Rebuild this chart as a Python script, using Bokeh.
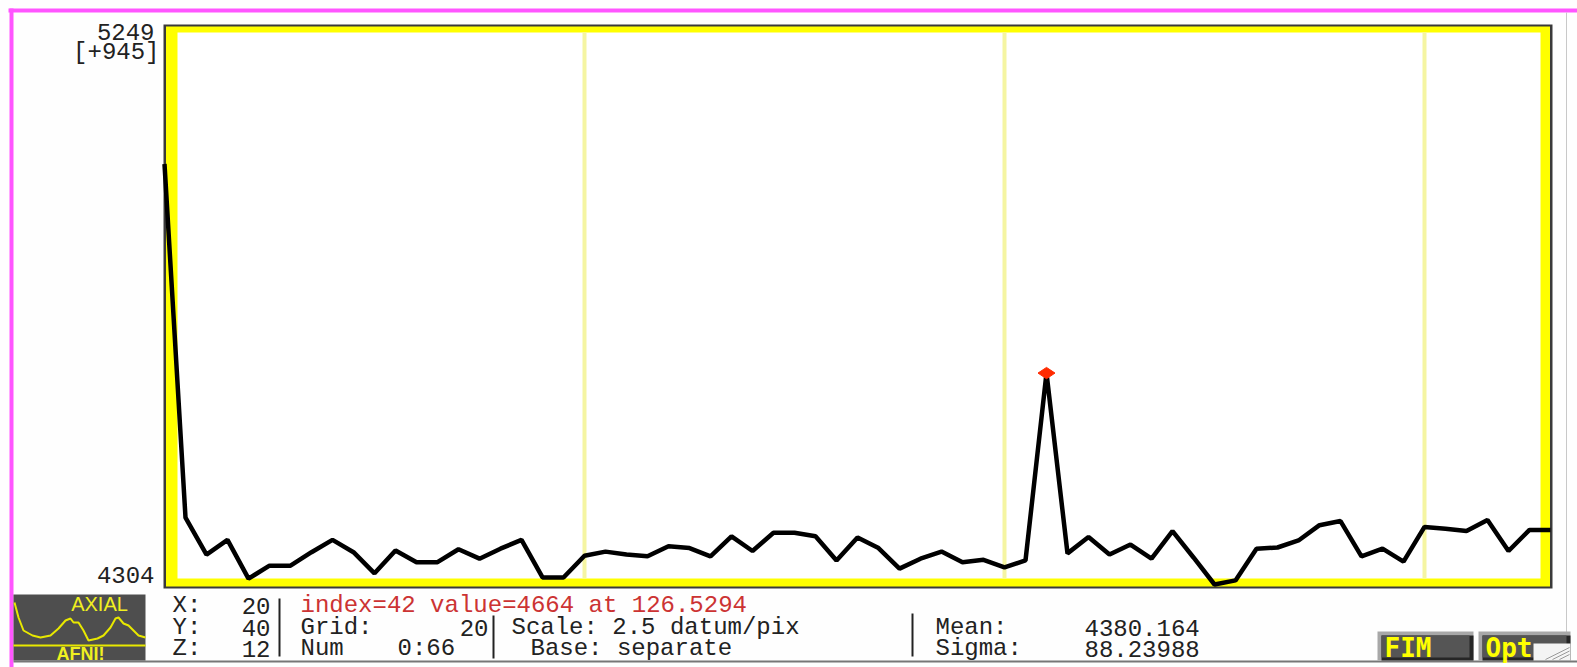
import numpy as np
from bokeh.plotting import figure
from bokeh.models import Range1d
from bokeh.embed import file_html
from bokeh.resources import INLINE
from bokeh.core.properties import value

# ---------------- data ----------------
time_index = list(range(67))
signal = [5020, 4418, 4355, 4380, 4314, 4336, 4336, 4359, 4380, 4359,
          4323, 4362, 4342, 4342, 4364, 4348, 4365, 4380, 4316, 4316,
          4353, 4360, 4355, 4352, 4369, 4366, 4352, 4386, 4361, 4392,
          4392, 4386, 4345, 4384, 4366, 4331, 4348, 4360, 4342, 4346,
          4333, 4345, 4664, 4357, 4385, 4355, 4372, 4348, 4395, 4350,
          4304, 4311, 4365, 4367, 4379, 4405, 4412, 4352, 4365, 4343,
          4402, 4399, 4395, 4414, 4361, 4397, 4397]
grid_lines_at = [20, 40, 60]
selected_index = 42
y_bottom_value = 4304
y_top_value = 5249
y_top_label = "5249"
y_range_label = "[+945]"
y_bottom_label = "4304"

coord_names = ["X:", "Y:", "Z:"]
coord_values = ["20", "40", "12"]
status_text = "index=42 value=4664 at 126.5294"
grid_label, grid_value = "Grid:", "20"
num_label, num_value = "Num", "0:66"
scale_text = "Scale: 2.5 datum/pix"
base_text = "Base: separate"
stat_names = ["Mean:", "Sigma:"]
stat_values = ["4380.164", "88.23988"]
logo_top, logo_bottom = "AXIAL", "AFNI!"
button_labels = ["FIM", "Opt"]

# decorative logo waveform (pixel positions inside the logo box)
logo_wave_x = [14, 18, 23, 32, 40, 50, 58, 65, 70, 73, 78, 83, 88, 97, 103,
               110, 115, 118, 123, 128, 133, 138, 145]
logo_wave_y = [602, 617, 630, 635, 637, 635, 628, 620, 618, 622, 622, 630,
               640, 638, 635, 627, 618, 617, 623, 625, 630, 635, 637]

# ---------------- geometry ----------------
W, H = 1577, 667
PAGE = 0                      # canvas offset on the page
X_PIX_0, DX = 164.0, 21.0     # page x of index 0, pixels per index
Y_PIX_BOT, Y_PIX_TOP = 584.0, 29.0
K = (y_top_value - y_bottom_value) / (Y_PIX_BOT - Y_PIX_TOP)


def dx(px):
    return (px - X_PIX_0) / DX


def dy(py):
    return y_bottom_value + (Y_PIX_BOT - py) * K


p = figure(width=W, height=H, output_backend="svg", toolbar_location=None,
           x_range=Range1d(dx(PAGE), dx(PAGE + W)),
           y_range=Range1d(dy(PAGE + H), dy(PAGE)),
           x_axis_location=None, y_axis_location=None, min_border=0)
p.outline_line_color = None
p.background_fill_color = "#fefefe"
p.border_fill_color = "#fefefe"
p.grid.visible = False

# window border (magenta)
p.quad(left=[dx(8), dx(9)], right=[dx(1577), dx(13)],
       top=[dy(8), dy(8)], bottom=[dy(12), dy(PAGE + H)],
       fill_color="#ff55ff", line_color=None)
p.segment(x0=[dx(1566)], y0=[dy(12)], x1=[dx(1566)], y1=[dy(660)],
          line_color="#c8c8c8", line_width=1)
p.segment(x0=[dx(13)], y0=[dy(661)], x1=[dx(1577)], y1=[dy(661)],
          line_color="#777777", line_width=2)

# graph box: dark border, yellow frame, white inside
p.quad(left=[dx(163)], right=[dx(1552)], top=[dy(24)], bottom=[dy(588)],
       fill_color="#3a3a3a", line_color=None)
p.quad(left=[dx(165.5)], right=[dx(1549.5)], top=[dy(26)], bottom=[dy(586)],
       fill_color="#ffff00", line_color=None)
p.quad(left=[dx(177)], right=[dx(1540)], top=[dy(32)], bottom=[dy(578)],
       fill_color="#ffffff", line_color=None)

# grid lines every 20 points
p.segment(x0=grid_lines_at, y0=[dy(32)] * 3, x1=grid_lines_at,
          y1=[dy(578)] * 3, line_color="#f5f5a2", line_width=4)

# time series
p.line(time_index, signal, line_color="#000000", line_width=4.5,
       line_join="bevel")
p.scatter([selected_index], [signal[selected_index]], marker="diamond",
          size=17, angle=np.pi / 2, fill_color="#ff2a00",
          line_color="#ff2a00")

FONT = value("Liberation Mono")
FS = "24px"

# y labels
p.text(x=[dx(154), dx(159), dx(154)], y=[dy(31), dy(52), dy(574)],
       text=[y_top_label, y_range_label, y_bottom_label], text_font=FONT,
       text_font_size=FS, text_align="right", text_baseline="middle",
       text_color="#222222")

rows = [605, 627, 648]

# coordinates column
p.text(x=[dx(172)] * 3, y=[dy(r) for r in rows], text=coord_names,
       text_font=FONT, text_font_size=FS, text_align="left",
       text_baseline="middle", text_color="#222222")
p.text(x=[dx(270)] * 3, y=[dy(r) for r in rows], text=coord_values,
       text_font=FONT, text_font_size=FS, text_align="right",
       text_baseline="middle", text_color="#222222")

# status line (red)
p.text(x=[dx(300)], y=[dy(rows[0])], text=[status_text], text_font=FONT,
       text_font_size=FS, text_align="left", text_baseline="middle",
       text_color="#cc3333")

# grid / num
p.text(x=[dx(300), dx(300), dx(397)], y=[dy(rows[1]), dy(rows[2]), dy(rows[2])],
       text=[grid_label, num_label, num_value], text_font=FONT,
       text_font_size=FS, text_align="left", text_baseline="middle",
       text_color="#222222")
p.text(x=[dx(488)], y=[dy(rows[1])], text=[grid_value], text_font=FONT,
       text_font_size=FS, text_align="right", text_baseline="middle",
       text_color="#222222")

# scale / base
p.text(x=[dx(511), dx(530)], y=[dy(rows[1]), dy(rows[2])],
       text=[scale_text, base_text], text_font=FONT, text_font_size=FS,
       text_align="left", text_baseline="middle", text_color="#222222")

# stats
p.text(x=[dx(935)] * 2, y=[dy(rows[1]), dy(rows[2])], text=stat_names,
       text_font=FONT, text_font_size=FS, text_align="left",
       text_baseline="middle", text_color="#222222")
p.text(x=[dx(1084)] * 2, y=[dy(rows[1]), dy(rows[2])], text=stat_values,
       text_font=FONT, text_font_size=FS, text_align="left",
       text_baseline="middle", text_color="#222222")

# separators
p.segment(x0=[dx(279), dx(493), dx(912)], y0=[dy(598), dy(615), dy(613)],
          x1=[dx(279), dx(493), dx(912)], y1=[dy(656), dy(658), dy(656)],
          line_color="#222222", line_width=2)

# AFNI logo
p.quad(left=[dx(13)], right=[dx(145)], top=[dy(594)], bottom=[dy(660)],
       fill_color="#4e4e4e", line_color=None)
p.line([dx(v) for v in logo_wave_x], [dy(v) for v in logo_wave_y],
       line_color="#e8e800", line_width=2)
p.segment(x0=[dx(13)], y0=[dy(645)], x1=[dx(145)], y1=[dy(645)],
          line_color="#e8e800", line_width=2)
p.text(x=[dx(99)], y=[dy(603)], text=[logo_top],
       text_font=value("Liberation Sans"), text_font_size="20px",
       text_align="center", text_baseline="middle", text_color="#f0f020")
p.text(x=[dx(80)], y=[dy(653)], text=[logo_bottom],
       text_font=value("Liberation Sans"), text_font_size="18px",
       text_font_style="bold", text_align="center", text_baseline="middle",
       text_color="#f0f020")

# buttons
p.quad(left=[dx(1377), dx(1478)], right=[dx(1473), dx(1570)],
       top=[dy(631)] * 2, bottom=[dy(660)] * 2,
       fill_color="#a8a8a8", line_color=None)
p.quad(left=[dx(1381), dx(1482)], right=[dx(1473), dx(1570)],
       top=[dy(635)] * 2, bottom=[dy(660)] * 2,
       fill_color="#262626", line_color=None)
p.quad(left=[dx(1381), dx(1482)], right=[dx(1469), dx(1566)],
       top=[dy(635)] * 2, bottom=[dy(657)] * 2,
       fill_color="#555555", line_color=None)
p.text(x=[dx(1384), dx(1485)], y=[dy(647)] * 2, text=button_labels,
       text_font=value("DejaVu Sans Mono"), text_font_size="26px",
       text_font_style="bold", text_align="left", text_baseline="middle",
       text_color="#ffff00")
# resize grip
p.quad(left=[dx(1533)], right=[dx(1570)], top=[dy(643)],
       bottom=[dy(660)], fill_color="#f4f4f4", line_color=None)
p.segment(x0=[dx(1545), dx(1552), dx(1559)], y0=[dy(659)] * 3,
          x1=[dx(1569), dx(1569), dx(1569)],
          y1=[dy(647), dy(650.5), dy(654)], line_color="#9a9a9a",
          line_width=1)

open("out.html", "w").write(file_html(p, INLINE))
